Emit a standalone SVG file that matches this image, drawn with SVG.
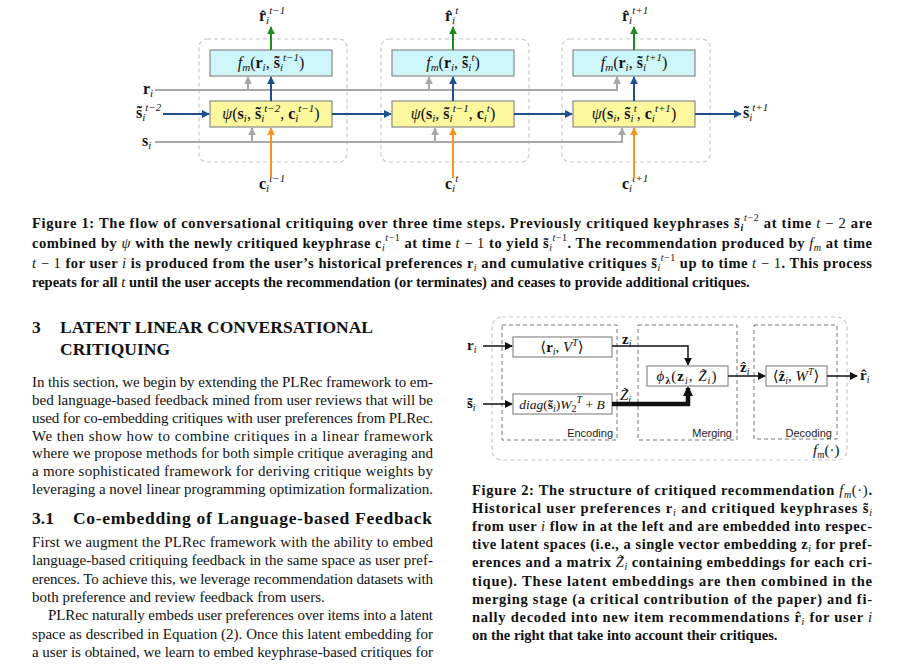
<svg xmlns="http://www.w3.org/2000/svg" width="916" height="664" viewBox="0 0 916 664">
<style>
.t{font-family:"Liberation Serif","DejaVu Serif",serif;fill:#111}
.b{font-weight:bold}
.i{font-style:italic}
.n{font-weight:normal}
.cap{font-size:14.5px;font-weight:bold}
.body{font-size:15px}
.h{font-size:17.5px;font-weight:bold}
.sm{font-size:10px}
.m{font-family:"Liberation Serif","DejaVu Serif",serif;font-size:16px;fill:#111}
.ms{font-size:11px;font-style:italic}
.f2m{font-family:"Liberation Serif","DejaVu Serif",serif;font-size:15px;fill:#111}
.f2s{font-size:10px}
.lab{font-family:"Liberation Sans",Arial,sans-serif;font-size:11px;fill:#222}
.dbox{fill:none;stroke:#c8c8c8;stroke-width:1.2;stroke-dasharray:4 3}
.cy{fill:#cdf6fb;stroke:#8a8a8a;stroke-width:1.2}
.ye{fill:#fdf89e;stroke:#8a8a8a;stroke-width:1.2}
.gr{fill:none;stroke:#a8a8a8;stroke-width:2}
.bl{fill:none;stroke:#1d4f8b;stroke-width:2}
.gn{fill:none;stroke:#1e8a1e;stroke-width:2}
.or{fill:none;stroke:#f7941d;stroke-width:2}
.k{fill:none;stroke:#111;stroke-width:1.5}
.kt{fill:none;stroke:#111;stroke-width:4.5}
.wb{fill:#fff;stroke:#8a8a8a;stroke-width:1.2}
.stg{fill:none;stroke:#777;stroke-width:1;stroke-dasharray:4 3}
.outer{fill:none;stroke:#c8c8c8;stroke-width:1.2;stroke-dasharray:4 3}
</style>
<defs>
<marker id="aGr" viewBox="0 0 10 10" refX="9" refY="5" markerWidth="8" markerHeight="8" markerUnits="userSpaceOnUse" orient="auto"><path d="M0,0 L10,5 L0,10 z" fill="#a8a8a8"/></marker>
<marker id="aBl" viewBox="0 0 10 10" refX="9" refY="5" markerWidth="8" markerHeight="8" markerUnits="userSpaceOnUse" orient="auto"><path d="M0,0 L10,5 L0,10 z" fill="#1d4f8b"/></marker>
<marker id="aGn" viewBox="0 0 10 10" refX="9" refY="5" markerWidth="8" markerHeight="8" markerUnits="userSpaceOnUse" orient="auto"><path d="M0,0 L10,5 L0,10 z" fill="#1e8a1e"/></marker>
<marker id="aOr" viewBox="0 0 10 10" refX="9" refY="5" markerWidth="8" markerHeight="8" markerUnits="userSpaceOnUse" orient="auto"><path d="M0,0 L10,5 L0,10 z" fill="#f7941d"/></marker>
<marker id="aK" viewBox="0 0 10 10" refX="9" refY="5" markerWidth="8" markerHeight="8" markerUnits="userSpaceOnUse" orient="auto"><path d="M0,0 L10,5 L0,10 z" fill="#111"/></marker>
<marker id="aKt" viewBox="0 0 10 10" refX="8" refY="5" markerWidth="10" markerHeight="10" markerUnits="userSpaceOnUse" orient="auto"><path d="M0,0 L10,5 L0,10 z" fill="#111"/></marker>
</defs>
<rect width="916" height="664" fill="#fff"/>

<!-- ===== Figure 1 ===== -->
<g id="fig1">
<g id="step1">
<rect class="dbox" x="199" y="39" width="148" height="123" rx="8"/>
<rect id="fm1" class="cy" x="210" y="50" width="122" height="26"/>
<text class="m" x="271" y="68" text-anchor="middle"><tspan class="i">f</tspan><tspan class="ms" dy="3">m</tspan><tspan dy="-3">(</tspan><tspan class="b">r</tspan><tspan class="ms" dy="3">i</tspan><tspan dy="-3">, </tspan><tspan class="b">s̃</tspan><tspan class="ms" dy="3">i</tspan><tspan class="ms" dy="-10">t−1</tspan><tspan dy="7">)</tspan></text>
<rect id="psi1" class="ye" x="210" y="101" width="122" height="26"/>
<text class="m" x="271" y="119" text-anchor="middle"><tspan class="i">ψ</tspan>(<tspan class="b">s</tspan><tspan class="ms" dy="3">i</tspan><tspan dy="-3">, </tspan><tspan class="b">s̃</tspan><tspan class="ms" dy="3">i</tspan><tspan class="ms" dy="-10">t−2</tspan><tspan dy="7">, </tspan><tspan class="b">c</tspan><tspan class="ms" dy="3">i</tspan><tspan class="ms" dy="-10">t−1</tspan><tspan dy="7">)</tspan></text>
<text class="m" x="259" y="21"><tspan class="b">r̂</tspan><tspan class="ms" dy="3">i</tspan><tspan class="ms" dy="-10">t−1</tspan></text>
<text class="m" x="259" y="189"><tspan class="b">c</tspan><tspan class="ms" dy="3">i</tspan><tspan class="ms" dy="-10">t−1</tspan></text>
</g>
<g id="step2">
<rect class="dbox" x="381" y="39" width="148" height="123" rx="8"/>
<rect id="fm2" class="cy" x="392" y="50" width="122" height="26"/>
<text class="m" x="453" y="68" text-anchor="middle"><tspan class="i">f</tspan><tspan class="ms" dy="3">m</tspan><tspan dy="-3">(</tspan><tspan class="b">r</tspan><tspan class="ms" dy="3">i</tspan><tspan dy="-3">, </tspan><tspan class="b">s̃</tspan><tspan class="ms" dy="3">i</tspan><tspan class="ms" dy="-10">t</tspan><tspan dy="7">)</tspan></text>
<rect id="psi2" class="ye" x="392" y="101" width="122" height="26"/>
<text class="m" x="453" y="119" text-anchor="middle"><tspan class="i">ψ</tspan>(<tspan class="b">s</tspan><tspan class="ms" dy="3">i</tspan><tspan dy="-3">, </tspan><tspan class="b">s̃</tspan><tspan class="ms" dy="3">i</tspan><tspan class="ms" dy="-10">t−1</tspan><tspan dy="7">, </tspan><tspan class="b">c</tspan><tspan class="ms" dy="3">i</tspan><tspan class="ms" dy="-10">t</tspan><tspan dy="7">)</tspan></text>
<text class="m" x="445" y="21"><tspan class="b">r̂</tspan><tspan class="ms" dy="3">i</tspan><tspan class="ms" dy="-10">t</tspan></text>
<text class="m" x="445" y="189"><tspan class="b">c</tspan><tspan class="ms" dy="3">i</tspan><tspan class="ms" dy="-10">t</tspan></text>
</g>
<g id="step3">
<rect class="dbox" x="562" y="39" width="148" height="123" rx="8"/>
<rect id="fm3" class="cy" x="573" y="50" width="122" height="26"/>
<text class="m" x="634" y="68" text-anchor="middle"><tspan class="i">f</tspan><tspan class="ms" dy="3">m</tspan><tspan dy="-3">(</tspan><tspan class="b">r</tspan><tspan class="ms" dy="3">i</tspan><tspan dy="-3">, </tspan><tspan class="b">s̃</tspan><tspan class="ms" dy="3">i</tspan><tspan class="ms" dy="-10">t+1</tspan><tspan dy="7">)</tspan></text>
<rect id="psi3" class="ye" x="573" y="101" width="122" height="26"/>
<text class="m" x="634" y="119" text-anchor="middle"><tspan class="i">ψ</tspan>(<tspan class="b">s</tspan><tspan class="ms" dy="3">i</tspan><tspan dy="-3">, </tspan><tspan class="b">s̃</tspan><tspan class="ms" dy="3">i</tspan><tspan class="ms" dy="-10">t</tspan><tspan dy="7">, </tspan><tspan class="b">c</tspan><tspan class="ms" dy="3">i</tspan><tspan class="ms" dy="-10">t+1</tspan><tspan dy="7">)</tspan></text>
<text class="m" x="622" y="21"><tspan class="b">r̂</tspan><tspan class="ms" dy="3">i</tspan><tspan class="ms" dy="-10">t+1</tspan></text>
<text class="m" x="622" y="189"><tspan class="b">c</tspan><tspan class="ms" dy="3">i</tspan><tspan class="ms" dy="-10">t+1</tspan></text>
</g>
<g id="inputs">
<text class="m" x="143" y="94"><tspan class="b">r</tspan><tspan class="ms" dy="3">i</tspan></text>
<text class="m" x="136" y="118"><tspan class="b">s̃</tspan><tspan class="ms" dy="3">i</tspan><tspan class="ms" dy="-10">t−2</tspan></text>
<text class="m" x="142" y="146"><tspan class="b">s</tspan><tspan class="ms" dy="3">i</tspan></text>
<text class="m" x="743" y="118"><tspan class="b">s̃</tspan><tspan class="ms" dy="3">i</tspan><tspan class="ms" dy="-10">t+1</tspan></text>
</g>
<g id="connectors1">
<path class="gr" d="M155,90 H617 V77" marker-end="url(#aGr)"/>
<path class="gr" d="M248,90 V77" marker-end="url(#aGr)"/>
<path class="gr" d="M429,90 V77" marker-end="url(#aGr)"/>
<path class="gr" d="M155,142 H622 V128" marker-end="url(#aGr)"/>
<path class="gr" d="M252,142 V128" marker-end="url(#aGr)"/>
<path class="gr" d="M435,142 V128" marker-end="url(#aGr)"/>
<path class="bl" d="M163,114 H209" marker-end="url(#aBl)"/>
<path class="bl" d="M332,114 H391" marker-end="url(#aBl)"/>
<path class="bl" d="M514,114 H572" marker-end="url(#aBl)"/>
<path class="bl" d="M695,114 H741" marker-end="url(#aBl)"/>
<path class="bl" d="M271,101 V77" marker-end="url(#aBl)"/>
<path class="bl" d="M453,101 V77" marker-end="url(#aBl)"/>
<path class="bl" d="M634,101 V77" marker-end="url(#aBl)"/>
<path class="gn" d="M271,50 V27" marker-end="url(#aGn)"/>
<path class="gn" d="M453,50 V27" marker-end="url(#aGn)"/>
<path class="gn" d="M634,50 V27" marker-end="url(#aGn)"/>
<path class="or" d="M271,178 V128" marker-end="url(#aOr)"/>
<path class="or" d="M453,178 V128" marker-end="url(#aOr)"/>
<path class="or" d="M634,178 V128" marker-end="url(#aOr)"/>
</g>
</g>

<!-- Caption 1 -->
<g id="caption1">
<text class="t cap" x="32" y="228" textLength="840" lengthAdjust="spacing">Figure 1: The flow of conversational critiquing over three time steps. Previously critiqued keyphrases s̃<tspan class="sm i" dy="3">i</tspan><tspan class="sm i n" dy="-10">t</tspan><tspan class="sm n">−2</tspan><tspan dy="7"> at time </tspan><tspan class="i n">t</tspan><tspan class="n"> − 2</tspan> are</text>
<text class="t cap" x="32" y="248" textLength="840" lengthAdjust="spacing">combined by <tspan class="i n">ψ</tspan> with the newly critiqued keyphrase c<tspan class="sm i n" dy="3">i</tspan><tspan class="sm i n" dy="-10">t</tspan><tspan class="sm n">−1</tspan><tspan dy="7"> at time </tspan><tspan class="i n">t</tspan><tspan class="n"> − 1</tspan> to yield s̃<tspan class="sm i n" dy="3">i</tspan><tspan class="sm i n" dy="-10">t</tspan><tspan class="sm n">−1</tspan><tspan dy="7">. The recommendation produced by </tspan><tspan class="i n">f</tspan><tspan class="sm i n" dy="3">m</tspan><tspan dy="-3"> at time</tspan></text>
<text class="t cap" x="32" y="268" textLength="840" lengthAdjust="spacing"><tspan class="i n">t</tspan><tspan class="n"> − 1</tspan> for user <tspan class="i n">i</tspan> is produced from the user’s historical preferences r<tspan class="sm i n" dy="3">i</tspan><tspan dy="-3"> and cumulative critiques s̃</tspan><tspan class="sm i n" dy="3">i</tspan><tspan class="sm i n" dy="-10">t</tspan><tspan class="sm n">−1</tspan><tspan dy="7"> up to time </tspan><tspan class="i n">t</tspan><tspan class="n"> − 1</tspan>. This process</text>
<text class="t cap" x="32" y="287">repeats for all <tspan class="i n">t</tspan> until the user accepts the recommendation (or terminates) and ceases to provide additional critiques.</text>
</g>

<!-- Section text left column -->
<g id="section3">
<text class="t h" x="32" y="333">3</text>
<text class="t h" x="60" y="333" textLength="313" lengthAdjust="spacing">LATENT LINEAR CONVERSATIONAL</text>
<text class="t h" x="60" y="355" textLength="110" lengthAdjust="spacing">CRITIQUING</text>
<text class="t body" x="32" y="387" textLength="401" lengthAdjust="spacing">In this section, we begin by extending the PLRec framework to em-</text>
<text class="t body" x="32" y="405" textLength="401" lengthAdjust="spacing">bed language-based feedback mined from user reviews that will be</text>
<text class="t body" x="32" y="423" textLength="401" lengthAdjust="spacing">used for co-embedding critiques with user preferences from PLRec.</text>
<text class="t body" x="32" y="441" textLength="401" lengthAdjust="spacing">We then show how to combine critiques in a linear framework</text>
<text class="t body" x="32" y="458" textLength="401" lengthAdjust="spacing">where we propose methods for both simple critique averaging and</text>
<text class="t body" x="32" y="476" textLength="401" lengthAdjust="spacing">a more sophisticated framework for deriving critique weights by</text>
<text class="t body" x="32" y="494" textLength="401" lengthAdjust="spacing">leveraging a novel linear programming optimization formalization.</text>
<text class="t h" x="32" y="524">3.1</text>
<text class="t h" x="73" y="524" textLength="359" lengthAdjust="spacing">Co-embedding of Language-based Feedback</text>
<text class="t body" x="32" y="547" textLength="401" lengthAdjust="spacing">First we augment the PLRec framework with the ability to embed</text>
<text class="t body" x="32" y="565" textLength="401" lengthAdjust="spacing">language-based critiquing feedback in the same space as user pref-</text>
<text class="t body" x="32" y="584" textLength="401" lengthAdjust="spacing">erences. To achieve this, we leverage recommendation datasets with</text>
<text class="t body" x="32" y="602">both preference and review feedback from users.</text>
<text class="t body" x="48" y="620" textLength="385" lengthAdjust="spacing">PLRec naturally embeds user preferences over items into a latent</text>
<text class="t body" x="32" y="639" textLength="401" lengthAdjust="spacing">space as described in Equation (2). Once this latent embedding for</text>
<text class="t body" x="32" y="657" textLength="401" lengthAdjust="spacing">a user is obtained, we learn to embed keyphrase-based critiques for</text>
</g>

<!-- ===== Figure 2 ===== -->
<g id="fig2">
<rect class="outer" x="492" y="317" width="355" height="143" rx="10"/>
<g id="encoding">
<rect class="stg" x="502" y="325" width="115" height="115"/>
<text class="lab" x="613" y="437" text-anchor="end">Encoding</text>
</g>
<g id="merging">
<rect class="stg" x="638" y="325" width="99" height="115"/>
<text class="lab" x="732" y="437" text-anchor="end">Merging</text>
</g>
<g id="decoding">
<rect class="stg" x="754" y="325" width="83" height="114"/>
<text class="lab" x="832" y="437" text-anchor="end">Decoding</text>
</g>
<text class="f2m" x="813" y="455"><tspan class="i">f</tspan><tspan class="f2s i" dy="3">m</tspan><tspan dy="-3">(·)</tspan></text>
<g id="embR">
<rect class="wb" x="513" y="337" width="99" height="20"/>
<text class="f2m" x="562" y="352" text-anchor="middle">⟨<tspan class="b">r</tspan><tspan class="f2s i" dy="3">i</tspan><tspan dy="-3">, </tspan><tspan class="i">V</tspan><tspan class="f2s i" dy="-6">T</tspan><tspan dy="6">⟩</tspan></text>
</g>
<g id="embS">
<rect class="wb" x="513" y="394" width="99" height="20"/>
<text class="f2m" x="562" y="409" text-anchor="middle" style="font-size:13.5px"><tspan class="i">diag</tspan>(<tspan class="b">s̃</tspan><tspan class="f2s i" dy="3">i</tspan><tspan dy="-3">)</tspan><tspan class="i">W</tspan><tspan class="f2s" dy="3">2</tspan><tspan class="f2s i" dy="-9">T</tspan><tspan dy="6"> + </tspan><tspan class="i">B</tspan></text>
</g>
<g id="merge">
<rect class="wb" x="647" y="366" width="81" height="20"/>
<text class="f2m" x="687" y="381" text-anchor="middle" letter-spacing="1"><tspan class="i">ϕ</tspan><tspan class="f2s b" dy="3">λ</tspan><tspan dy="-3">(</tspan><tspan class="b">z</tspan><tspan class="f2s i" dy="3">i</tspan><tspan dy="-3">, </tspan><tspan class="i">Z̃</tspan><tspan class="f2s i" dy="3">i</tspan><tspan dy="-3">)</tspan></text>
</g>
<g id="decode">
<rect class="wb" x="766" y="366" width="61" height="20"/>
<text class="f2m" x="796" y="381" text-anchor="middle">⟨<tspan class="b">ẑ</tspan><tspan class="f2s i" dy="3">i</tspan><tspan dy="-3">, </tspan><tspan class="i">W</tspan><tspan class="f2s i" dy="-6">T</tspan><tspan dy="6">⟩</tspan></text>
</g>
<g id="labels2">
<text class="f2m" x="467" y="350"><tspan class="b">r</tspan><tspan class="f2s i" dy="3">i</tspan></text>
<text class="f2m" x="467" y="408"><tspan class="b">s̃</tspan><tspan class="f2s i" dy="3">i</tspan></text>
<text class="f2m" x="622" y="344"><tspan class="b">z</tspan><tspan class="f2s i" dy="3">i</tspan></text>
<text class="f2m" x="620" y="400"><tspan class="i">Z̃</tspan><tspan class="f2s i" dy="3">i</tspan></text>
<text class="f2m" x="740" y="372"><tspan class="b">ẑ</tspan><tspan class="f2s i" dy="3">i</tspan></text>
<text class="f2m" x="860" y="380"><tspan class="b">r̂</tspan><tspan class="f2s i" dy="3">i</tspan></text>
</g>
<g id="connectors2">
<path class="k" d="M483,346 H512" marker-end="url(#aK)"/>
<path class="k" d="M483,404 H512" marker-end="url(#aK)"/>
<path class="k" d="M612,346 H688 V365" marker-end="url(#aK)"/>
<path class="kt" d="M612,404 H688 V388" marker-end="url(#aKt)"/>
<path class="k" d="M728,376 H765" marker-end="url(#aK)"/>
<path class="k" d="M827,376 H857" marker-end="url(#aK)"/>
</g>
</g>

<!-- Caption 2 -->
<g id="caption2">
<text class="t cap" x="472" y="495" textLength="400" lengthAdjust="spacing">Figure 2: The structure of critiqued recommendation <tspan class="i n">f</tspan><tspan class="sm i n" dy="3">m</tspan><tspan class="n" dy="-3">(·)</tspan>.</text>
<text class="t cap" x="472" y="513" textLength="400" lengthAdjust="spacing">Historical user preferences r<tspan class="sm i n" dy="3">i</tspan><tspan dy="-3"> and critiqued keyphrases s̃</tspan><tspan class="sm i n" dy="3">i</tspan></text>
<text class="t cap" x="472" y="531" textLength="400" lengthAdjust="spacing">from user <tspan class="i n">i</tspan> flow in at the left and are embedded into respec-</text>
<text class="t cap" x="472" y="549" textLength="400" lengthAdjust="spacing">tive latent spaces (i.e., a single vector embedding z<tspan class="sm i n" dy="3">i</tspan><tspan dy="-3"> for pref-</tspan></text>
<text class="t cap" x="472" y="567" textLength="400" lengthAdjust="spacing">erences and a matrix <tspan class="i n">Z̃</tspan><tspan class="sm i n" dy="3">i</tspan><tspan dy="-3"> containing embeddings for each cri-</tspan></text>
<text class="t cap" x="472" y="586" textLength="400" lengthAdjust="spacing">tique). These latent embeddings are then combined in the</text>
<text class="t cap" x="472" y="604" textLength="400" lengthAdjust="spacing">merging stage (a critical contribution of the paper) and fi-</text>
<text class="t cap" x="472" y="622" textLength="400" lengthAdjust="spacing">nally decoded into new item recommendations r̂<tspan class="sm i n" dy="3">i</tspan><tspan dy="-3"> for user </tspan><tspan class="i n">i</tspan></text>
<text class="t cap" x="472" y="640">on the right that take into account their critiques.</text>
</g>
</svg>
